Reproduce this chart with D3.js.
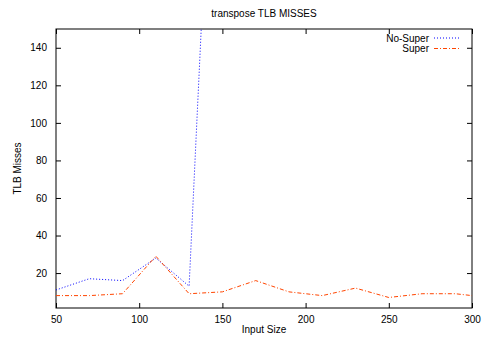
<!DOCTYPE html>
<html>
<head>
<meta charset="utf-8">
<script src="https://cdn.jsdelivr.net/npm/d3@7"></script>
<style>
  body { margin: 0; background: #fff; }
  text { font-family: "Liberation Sans", Arial, sans-serif; font-size: 10px; fill: #000; }
</style>
</head>
<body>
<div id="chart"></div>
<script>
// data
const inputSizes = [50, 70, 90, 110, 130, 150, 170, 190, 210, 230, 250, 270, 290, 300];
const noSuper = [11, 17, 16, 28, 13, 390, 400, 410, 420, 430, 440, 450, 460, 470];
const superVals = [8, 8, 9, 29, 9, 10, 16, 10, 8, 12, 7, 9, 9, 8];
const xTicks = [50, 100, 150, 200, 250, 300];
const yTicks = [20, 40, 60, 80, 100, 120, 140];

const width = 482, height = 337;
const plotLeft = 56, plotRight = 472, plotTop = 29, plotBottom = 308;

const svg = d3.select('#chart').append('svg')
  .attr('width', width)
  .attr('height', height);

const x = d3.scaleLinear().domain([50, 300]).range([plotLeft, plotRight]);
const y = d3.scaleLinear().domain([1.4, 150]).range([plotBottom, plotTop]);

svg.append('defs').append('clipPath').attr('id', 'plot')
  .append('rect')
  .attr('x', plotLeft).attr('y', plotTop)
  .attr('width', plotRight - plotLeft).attr('height', plotBottom - plotTop);

// axes, ticks inward on all four sides
const tick = 5;
svg.append('g')
  .attr('transform', `translate(0,${plotBottom})`)
  .call(d3.axisBottom(x).tickValues(xTicks).tickSizeInner(-tick).tickSizeOuter(0).tickPadding(8));
svg.append('g')
  .attr('transform', `translate(0,${plotTop})`)
  .call(d3.axisTop(x).tickValues(xTicks).tickSizeInner(-tick).tickSizeOuter(0).tickFormat(''));
svg.append('g')
  .attr('transform', `translate(${plotLeft},0)`)
  .call(d3.axisLeft(y).tickValues(yTicks).tickSizeInner(-tick).tickSizeOuter(0).tickPadding(9));
svg.append('g')
  .attr('transform', `translate(${plotRight},0)`)
  .call(d3.axisRight(y).tickValues(yTicks).tickSizeInner(-tick).tickSizeOuter(0).tickFormat(''));

svg.selectAll('.domain').remove();
svg.selectAll('.tick line').attr('stroke', '#000');
svg.selectAll('.tick text').style('font-size', '10px').attr('fill', '#000')
  .style('font-family', '"Liberation Sans", Arial, sans-serif');

svg.append('rect')
  .attr('x', plotLeft).attr('y', plotTop)
  .attr('width', plotRight - plotLeft).attr('height', plotBottom - plotTop)
  .attr('fill', 'none').attr('stroke', '#000').attr('stroke-width', 1);

// series
const line = d3.line()
  .x((d, i) => x(inputSizes[i]))
  .y(d => y(d));

const g = svg.append('g').attr('clip-path', 'url(#plot)');
g.append('path')
  .datum(noSuper)
  .attr('d', line)
  .attr('fill', 'none')
  .attr('stroke', '#0000ff')
  .attr('stroke-width', 1)
  .attr('stroke-dasharray', '1,2');
g.append('path')
  .datum(superVals)
  .attr('d', line)
  .attr('fill', 'none')
  .attr('stroke', '#ff4500')
  .attr('stroke-width', 1)
  .attr('stroke-dasharray', '4,2,1,2');

// legend
const legend = [
  { name: 'No-Super', color: '#0000ff', dash: '1,2' },
  { name: 'Super', color: '#ff4500', dash: '4,2,1,2' }
];
legend.forEach((d, i) => {
  const ly = 38 + i * 10.5;
  svg.append('text')
    .attr('x', 429).attr('y', ly).attr('dy', '0.35em')
    .attr('text-anchor', 'end')
    .text(d.name);
  svg.append('line')
    .attr('x1', 434).attr('x2', 461)
    .attr('y1', ly).attr('y2', ly)
    .attr('stroke', d.color)
    .attr('stroke-dasharray', d.dash);
});

// titles
svg.append('text')
  .attr('x', (plotLeft + plotRight) / 2).attr('y', 17)
  .attr('text-anchor', 'middle')
  .text('transpose TLB MISSES');
svg.append('text')
  .attr('x', (plotLeft + plotRight) / 2).attr('y', 333)
  .attr('text-anchor', 'middle')
  .text('Input Size');
svg.append('text')
  .attr('transform', `translate(21,${(plotTop + plotBottom) / 2}) rotate(-90)`)
  .attr('text-anchor', 'middle')
  .text('TLB Misses');
</script>
</body>
</html>
